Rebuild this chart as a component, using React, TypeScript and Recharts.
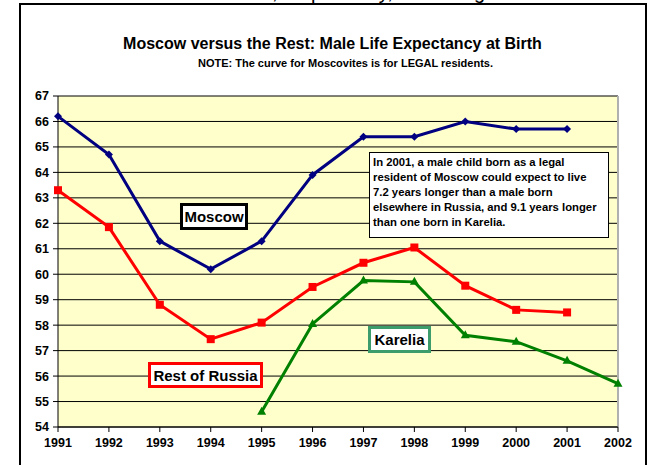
import React from 'react'
import {
  LineChart,
  Line,
  XAxis,
  YAxis,
  CartesianGrid,
  ReferenceLine,
} from 'recharts'

const years = [1991, 1992, 1993, 1994, 1995, 1996, 1997, 1998, 1999, 2000, 2001, 2002]
const moscow = [66.2, 64.7, 61.3, 60.2, 61.3, 63.9, 65.4, 65.4, 66.0, 65.7, 65.7, null]
const restOfRussia = [63.3, 61.85, 58.8, 57.45, 58.1, 59.5, 60.45, 61.05, 59.55, 58.6, 58.5, null]
const karelia = [null, null, null, null, 54.6, 58.05, 59.75, 59.7, 57.6, 57.35, 56.6, 55.7]
const yTicks = [54, 55, 56, 57, 58, 59, 60, 61, 62, 63, 64, 65, 66, 67]

const noteLines = [
  'In 2001, a male child born as a legal',
  'resident of Moscow could expect to live',
  '7.2 years longer than a male born',
  'elsewhere in Russia, and 9.1 years longer',
  'than one born in Karelia.',
]

const chartData = years.map((year, i) => ({
  year,
  moscow: moscow[i],
  rest: restOfRussia[i],
  karelia: karelia[i],
}))

const FONT = '"Liberation Sans", Arial, sans-serif'

// marker shapes like the old Excel defaults
const Diamond = (props: any) => {
  const { cx, cy, key } = props
  if (cx == null || cy == null) return <g key={key} />
  const r = 4
  return (
    <path
      key={key}
      d={`M${cx},${cy - r} L${cx + r},${cy} L${cx},${cy + r} L${cx - r},${cy} Z`}
      fill="#000080"
    />
  )
}

const Square = (props: any) => {
  const { cx, cy, key } = props
  if (cx == null || cy == null) return <g key={key} />
  return <rect key={key} x={cx - 4} y={cy - 4} width={8} height={8} fill="#FF0000" />
}

const Triangle = (props: any) => {
  const { cx, cy, key } = props
  if (cx == null || cy == null) return <g key={key} />
  return (
    <path
      key={key}
      d={`M${cx},${cy - 5} L${cx + 4.5},${cy + 3} L${cx - 4.5},${cy + 3} Z`}
      fill="#008000"
    />
  )
}

const tickStyle = { fontFamily: FONT, fontWeight: 700, fontSize: 12.5, fill: '#000' }

const labelBox = (border: string): React.CSSProperties => ({
  position: 'absolute',
  background: '#fff',
  border: `3px solid ${border}`,
  fontFamily: FONT,
  fontWeight: 700,
  fontSize: 15,
  color: '#000',
  boxSizing: 'border-box',
  display: 'flex',
  alignItems: 'center',
  justifyContent: 'center',
})

export default function App() {
  return (
    <div
      style={{
        position: 'absolute',
        left: 0,
        top: 0,
        width: 652,
        height: 465,
        background: '#fff',
        overflow: 'hidden',
      }}
    >
      <div
        style={{
          position: 'absolute',
          left: 272,
          top: -19,
          fontFamily: FONT,
          fontSize: 20,
          whiteSpace: 'nowrap',
          color: '#000',
        }}
      >
        , respectively, according
      </div>
      <div
        style={{
          position: 'absolute',
          left: 19,
          top: 3,
          width: 624,
          height: 480,
          border: '2px solid #000',
          background: '#fff',
        }}
      />
      <div
        style={{
          position: 'absolute',
          left: 0,
          width: 665,
          top: 35,
          textAlign: 'center',
          fontFamily: FONT,
          fontWeight: 700,
          fontSize: 16,
          color: '#000',
        }}
      >
        Moscow versus the Rest: Male Life Expectancy at Birth
      </div>
      <div
        style={{
          position: 'absolute',
          left: 0,
          width: 691,
          top: 57,
          textAlign: 'center',
          fontFamily: FONT,
          fontWeight: 700,
          fontSize: 11,
          color: '#000',
        }}
      >
        NOTE: The curve for Moscovites is for LEGAL residents.
      </div>

      <div style={{ position: 'absolute', left: 0, top: 0 }}>
        <LineChart
          width={652}
          height={465}
          data={chartData}
          margin={{ top: 96, right: 34, bottom: 8, left: 18 }}
        >
          <CartesianGrid
            vertical={false}
            stroke="#000"
            strokeWidth={1}
            fill="#FFFFCC"
            fillOpacity={1}
          />
          <ReferenceLine x={2002} stroke="#b0b0b0" strokeWidth={2} />
          <XAxis
            dataKey="year"
            type="number"
            domain={[1991, 2002]}
            ticks={years}
            tick={tickStyle}
            tickSize={5}
            tickMargin={6}
            stroke="#000"
            height={30}
            interval={0}
          />
          <YAxis
            type="number"
            domain={[54, 67]}
            ticks={yTicks}
            tick={tickStyle}
            tickSize={5}
            tickMargin={4}
            stroke="#000"
            width={40}
            interval={0}
          />
          <Line
            dataKey="moscow"
            stroke="#000080"
            strokeWidth={3}
            dot={Diamond}
            activeDot={false}
            isAnimationActive={false}
          />
          <Line
            dataKey="rest"
            stroke="#FF0000"
            strokeWidth={3}
            dot={Square}
            activeDot={false}
            isAnimationActive={false}
          />
          <Line
            dataKey="karelia"
            stroke="#008000"
            strokeWidth={3}
            dot={Triangle}
            activeDot={false}
            isAnimationActive={false}
          />
        </LineChart>
      </div>

      <div style={{ ...labelBox('#000'), left: 180, top: 203, width: 68, height: 27 }}>
        Moscow
      </div>
      <div style={{ ...labelBox('#FF0000'), left: 148, top: 362, width: 115, height: 26 }}>
        Rest of Russia
      </div>
      <div style={{ ...labelBox('#3C9C6C'), left: 368, top: 326, width: 63, height: 27 }}>
        Karelia
      </div>
      <div
        style={{
          position: 'absolute',
          left: 369,
          top: 152,
          width: 240,
          height: 86,
          boxSizing: 'border-box',
          background: '#fff',
          border: '1px solid #000',
          padding: '2px 3px',
          fontFamily: FONT,
          fontWeight: 700,
          fontSize: 11.3,
          lineHeight: '15px',
          color: '#000',
          whiteSpace: 'nowrap',
        }}
      >
        {noteLines.map((line) => (
          <div key={line}>{line}</div>
        ))}
      </div>
    </div>
  )
}
